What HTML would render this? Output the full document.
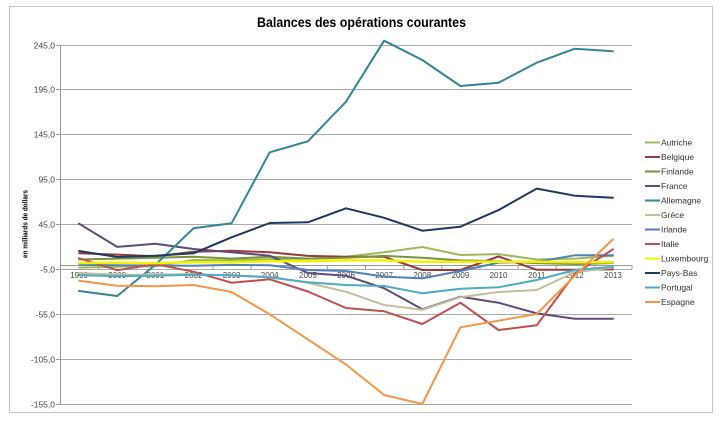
<!DOCTYPE html>
<html><head><meta charset="utf-8"><style>
html,body{margin:0;padding:0;background:#fff;}
svg{display:block;}
text{font-family:"Liberation Sans",Arial,sans-serif;}
</style></head><body>
<svg width="720" height="421" viewBox="0 0 720 421" xmlns="http://www.w3.org/2000/svg">
<rect x="0" y="0" width="720" height="421" fill="#fff"/>
<rect x="9.5" y="6.5" width="703" height="406" fill="#fff" stroke="#c4c4c4" stroke-width="1"/>
<text x="361.5" y="27" font-size="14" font-weight="bold" text-anchor="middle" textLength="209" lengthAdjust="spacingAndGlyphs" fill="#000">Balances des opérations  courantes</text>

<!-- gridlines -->
<g stroke="#ababab" stroke-width="1">
<line x1="60" y1="45.5" x2="632" y2="45.5"/>
<line x1="60" y1="89.5" x2="632" y2="89.5"/>
<line x1="60" y1="134.5" x2="632" y2="134.5"/>
<line x1="60" y1="179.5" x2="632" y2="179.5"/>
<line x1="60" y1="224.5" x2="632" y2="224.5"/>
<line x1="60" y1="269.5" x2="632" y2="269.5"/>
<line x1="60" y1="314.5" x2="632" y2="314.5"/>
<line x1="60" y1="359.5" x2="632" y2="359.5"/>
<line x1="60" y1="404.5" x2="632" y2="404.5"/>
</g>
<!-- y axis -->
<g stroke="#999" stroke-width="1">
<line x1="60.5" y1="45" x2="60.5" y2="405"/>
<line x1="56" y1="45.5" x2="60" y2="45.5"/>
<line x1="56" y1="89.5" x2="60" y2="89.5"/>
<line x1="56" y1="134.5" x2="60" y2="134.5"/>
<line x1="56" y1="179.5" x2="60" y2="179.5"/>
<line x1="56" y1="224.5" x2="60" y2="224.5"/>
<line x1="56" y1="269.5" x2="60" y2="269.5"/>
<line x1="56" y1="314.5" x2="60" y2="314.5"/>
<line x1="56" y1="359.5" x2="60" y2="359.5"/>
<line x1="56" y1="404.5" x2="60" y2="404.5"/>
<!-- x axis at 0 -->
<line x1="60" y1="265.5" x2="632" y2="265.5"/>
<line x1="98.6" y1="265" x2="98.6" y2="269"/>
<line x1="136.8" y1="265" x2="136.8" y2="269"/>
<line x1="174.9" y1="265" x2="174.9" y2="269"/>
<line x1="213" y1="265" x2="213" y2="269"/>
<line x1="251.2" y1="265" x2="251.2" y2="269"/>
<line x1="289.3" y1="265" x2="289.3" y2="269"/>
<line x1="327.4" y1="265" x2="327.4" y2="269"/>
<line x1="365.5" y1="265" x2="365.5" y2="269"/>
<line x1="403.7" y1="265" x2="403.7" y2="269"/>
<line x1="441.8" y1="265" x2="441.8" y2="269"/>
<line x1="480" y1="265" x2="480" y2="269"/>
<line x1="518.1" y1="265" x2="518.1" y2="269"/>
<line x1="556.2" y1="265" x2="556.2" y2="269"/>
<line x1="594.3" y1="265" x2="594.3" y2="269"/>
<line x1="632" y1="265" x2="632" y2="269"/>
</g>
<!-- y labels -->
<g font-size="8.5" fill="#444" text-anchor="end">
<text x="55" y="48.5">245,0</text>
<text x="55" y="92.5">195,0</text>
<text x="55" y="137.5">145,0</text>
<text x="55" y="182.5">95,0</text>
<text x="55" y="227.5">45,0</text>
<text x="55" y="272.5">-5,0</text>
<text x="55" y="317.5">-55,0</text>
<text x="55" y="362.5">-105,0</text>
<text x="55" y="407.5">-155,0</text>
</g>
<text transform="translate(27.5,224) rotate(-90)" font-size="7.5" font-weight="bold" text-anchor="middle" textLength="68" lengthAdjust="spacingAndGlyphs" fill="#000">en milliards de dollars</text>

<!-- x labels -->
<g font-size="8" fill="#444" text-anchor="middle">
<text x="79.1" y="278">1999</text>
<text x="117.2" y="278">2000</text>
<text x="155.3" y="278">2001</text>
<text x="193.5" y="278">2002</text>
<text x="231.6" y="278">2003</text>
<text x="269.7" y="278">2004</text>
<text x="307.9" y="278">2005</text>
<text x="346" y="278">2006</text>
<text x="384.1" y="278">2007</text>
<text x="422.3" y="278">2008</text>
<text x="460.4" y="278">2009</text>
<text x="498.5" y="278">2010</text>
<text x="536.7" y="278">2011</text>
<text x="574.8" y="278">2012</text>
<text x="612.9" y="278">2013</text>
</g>

<!-- series -->
<g fill="none" stroke-width="2" stroke-linejoin="round" stroke-linecap="round">
<polyline stroke="#9BBB59" points="79.1,267.6 117.2,266.7 155.3,266.2 193.5,260 231.6,260.4 269.7,259.1 307.9,258.6 346,256.8 384.1,252.3 422.3,247 460.4,255 498.5,254.1 536.7,259.5 574.8,258.6 612.9,255.9"/>
<polyline stroke="#9B3B38" points="79.1,253.2 117.2,254.6 155.3,256.4 193.5,251.7 231.6,250.8 269.7,252.3 307.9,255.9 346,256.8 384.1,256.8 422.3,270 460.4,270 498.5,256.5 536.7,269.8 574.8,269.8 612.9,269.4"/>
<polyline stroke="#77933C" points="79.1,259.5 117.2,258.6 155.3,257.7 193.5,256.8 231.6,258.6 269.7,256.8 307.9,258.6 346,257.7 384.1,255.9 422.3,257.7 460.4,260.4 498.5,261.3 536.7,263.1 574.8,264 612.9,263.1"/>
<polyline stroke="#604A7B" points="79.1,223.7 117.2,246.9 155.3,243.7 193.5,249 231.6,252.3 269.7,255.7 307.9,273 346,275.7 384.1,288.2 422.3,309.3 460.4,296.7 498.5,302.7 536.7,313.4 574.8,318.7 612.9,318.7"/>
<polyline stroke="#31859C" points="79.1,291 117.2,296 155.3,264.9 193.5,228.3 231.6,223.3 269.7,152.3 307.9,141.3 346,101.7 384.1,40.7 422.3,60 460.4,86 498.5,82.7 536.7,62.7 574.8,48.7 612.9,51.3"/>
<polyline stroke="#C4BD97" points="79.1,273 117.2,274.8 155.3,274.8 193.5,273.9 231.6,275.7 269.7,276.6 307.9,282.8 346,291.8 384.1,305 422.3,309.8 460.4,297.2 498.5,292 536.7,290 574.8,272.1 612.9,267.6"/>
<polyline stroke="#4F81BD" points="79.1,264.9 117.2,265.3 155.3,265.5 193.5,265.8 231.6,264.9 269.7,265.3 307.9,270 346,271 384.1,276.6 422.3,278.4 460.4,271 498.5,262.6 536.7,261.7 574.8,255.3 612.9,255.3"/>
<polyline stroke="#C0504D" points="79.1,258.2 117.2,270.2 155.3,264.2 193.5,271.7 231.6,282.7 269.7,279.3 307.9,291.5 346,308 384.1,311.3 422.3,324 460.4,302.7 498.5,330 536.7,325.3 574.8,273.9 612.9,249.3"/>
<polyline stroke="#F2F200" stroke-width="2.5" points="79.1,263.1 117.2,262.6 155.3,263.1 193.5,262.2 231.6,262.2 269.7,261.3 307.9,261.3 346,260.4 384.1,260.4 422.3,261.7 460.4,261.7 498.5,261.7 536.7,261.7 574.8,262.2 612.9,262.2"/>
<polyline stroke="#1F3864" points="79.1,251 117.2,257 155.3,255.7 193.5,253.3 231.6,237.3 269.7,223 307.9,222.3 346,208.3 384.1,217.8 422.3,230.7 460.4,226.7 498.5,210.1 536.7,188.6 574.8,195.7 612.9,197.7"/>
<polyline stroke="#4BACC6" points="79.1,275.3 117.2,276.1 155.3,275.7 193.5,274.8 231.6,275.2 269.7,277.5 307.9,282.3 346,285 384.1,286 422.3,293.3 460.4,288.7 498.5,287.3 536.7,280 574.8,270 612.9,266.7"/>
<polyline stroke="#F79646" points="79.1,280.7 117.2,285.7 155.3,286.3 193.5,285 231.6,292 269.7,314.3 307.9,339.4 346,364.5 384.1,395 422.3,404 460.4,327.3 498.5,320.7 536.7,314 574.8,275.7 612.9,239.3"/>
</g>

<!-- legend -->
<g stroke-width="2">
<line x1="645" y1="142.5" x2="660" y2="142.5" stroke="#9BBB59"/>
<line x1="645" y1="157" x2="660" y2="157" stroke="#9B3B38"/>
<line x1="645" y1="171.5" x2="660" y2="171.5" stroke="#77933C"/>
<line x1="645" y1="186" x2="660" y2="186" stroke="#604A7B"/>
<line x1="645" y1="200.5" x2="660" y2="200.5" stroke="#31859C"/>
<line x1="645" y1="215" x2="660" y2="215" stroke="#C4BD97"/>
<line x1="645" y1="229.5" x2="660" y2="229.5" stroke="#4F81BD"/>
<line x1="645" y1="244" x2="660" y2="244" stroke="#C0504D"/>
<line x1="645" y1="258.5" x2="660" y2="258.5" stroke="#F2F200"/>
<line x1="645" y1="273" x2="660" y2="273" stroke="#1F3864"/>
<line x1="645" y1="287.5" x2="660" y2="287.5" stroke="#4BACC6"/>
<line x1="645" y1="302" x2="660" y2="302" stroke="#F79646"/>
</g>
<g font-size="8.5" fill="#333">
<text x="661" y="145.5">Autriche</text>
<text x="661" y="160">Belgique</text>
<text x="661" y="174.5">Finlande</text>
<text x="661" y="189">France</text>
<text x="661" y="203.5">Allemagne</text>
<text x="661" y="218">Grèce</text>
<text x="661" y="232.5">Irlande</text>
<text x="661" y="247">Italie</text>
<text x="661" y="261.5">Luxembourg</text>
<text x="661" y="276">Pays-Bas</text>
<text x="661" y="290.5">Portugal</text>
<text x="661" y="305">Espagne</text>
</g>
</svg>
</body></html>
